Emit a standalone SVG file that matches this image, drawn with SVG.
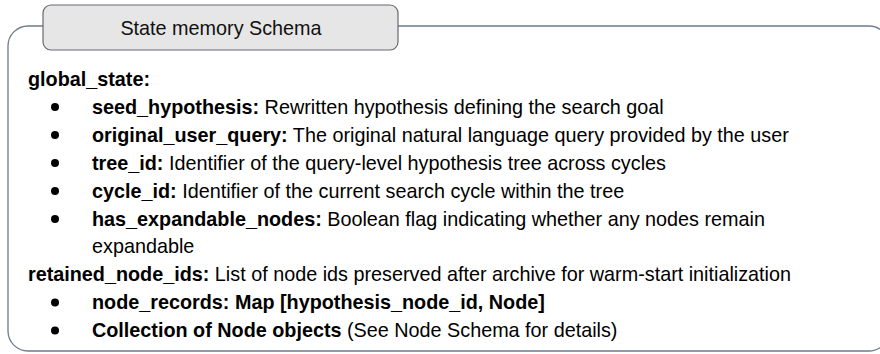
<svg xmlns="http://www.w3.org/2000/svg" width="880" height="354" viewBox="0 0 880 354">
  <style>
    .frame { fill: #ffffff; stroke: #6e7b8c; stroke-width: 1.3; }
    .title-box { fill: #e6e6e6; stroke: #666a70; stroke-width: 1.2; }
    .title { font-family: "Liberation Sans", Arial, sans-serif; font-size: 19.8px; fill: #111; text-anchor: middle; }
    .t { font-family: "Liberation Sans", Arial, sans-serif; font-size: 19.8px; fill: #000; }
    .b { font-weight: bold; }
    .bullet { fill: #000; }
  </style>
  <rect width="880" height="354" fill="#ffffff"/>
  <g id="frame">
    <rect class="frame" x="8" y="26" width="881" height="325" rx="20" ry="20"/>
  </g>
  <g id="title">
    <rect class="title-box" x="43" y="5" width="355" height="45" rx="8" ry="8"/>
    <text class="title" x="221" y="35">State memory Schema</text>
  </g>
  <g id="content">
    <text class="t b" x="28" y="86">global_state:</text>
    <circle class="bullet" cx="55" cy="107" r="4"/>
    <text class="t" x="92" y="113.9"><tspan class="b">seed_hypothesis:</tspan> Rewritten hypothesis defining the search goal</text>
    <circle class="bullet" cx="55" cy="135" r="4"/>
    <text class="t" x="92" y="141.8"><tspan class="b">original_user_query:</tspan> The original natural language query provided by the user</text>
    <circle class="bullet" cx="55" cy="163" r="4"/>
    <text class="t" x="92" y="169.7"><tspan class="b">tree_id:</tspan> Identifier of the query-level hypothesis tree across cycles</text>
    <circle class="bullet" cx="55" cy="191" r="4"/>
    <text class="t" x="92" y="197.6"><tspan class="b">cycle_id:</tspan> Identifier of the current search cycle within the tree</text>
    <circle class="bullet" cx="55" cy="219" r="4"/>
    <text class="t" x="92" y="225.5"><tspan class="b">has_expandable_nodes:</tspan> Boolean flag indicating whether any nodes remain</text>
    <text class="t" x="92" y="253.4">expandable</text>
    <text class="t" x="28" y="281.3"><tspan class="b">retained_node_ids:</tspan> List of node ids preserved after archive for warm-start initialization</text>
    <circle class="bullet" cx="55" cy="302.5" r="4"/>
    <text class="t b" x="92" y="309.2">node_records: Map [hypothesis_node_id, Node]</text>
    <circle class="bullet" cx="55" cy="330.5" r="4"/>
    <text class="t" x="92" y="337.1"><tspan class="b">Collection of Node objects</tspan> (See Node Schema for details)</text>
  </g>
</svg>
